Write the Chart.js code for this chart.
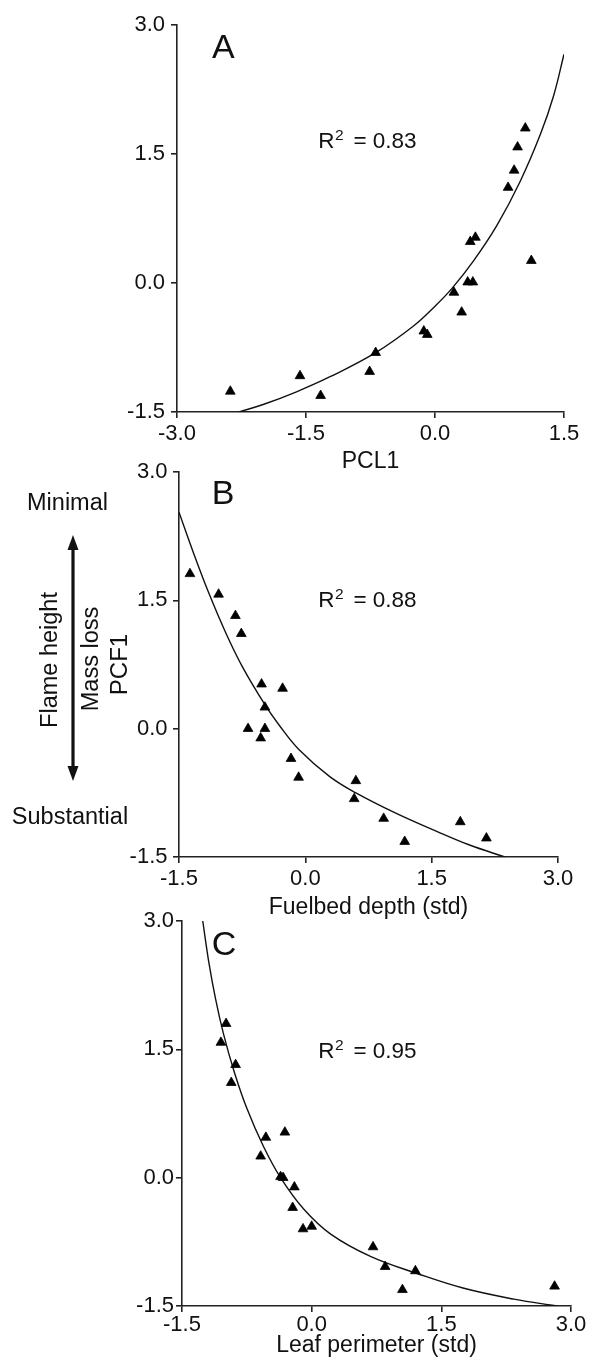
<!DOCTYPE html>
<html>
<head>
<meta charset="utf-8">
<script src="https://cdn.jsdelivr.net/npm/chart.js@4.4.1/dist/chart.umd.min.js"></script>
<style>
html,body{margin:0;padding:0;background:#fff;}
#wrap{position:relative;width:590px;height:1364px;overflow:hidden;background:#fff;}
canvas{position:absolute;left:0;top:0;}
</style>
</head>
<body>
<div id="wrap">
<canvas id="cA" width="590" height="1364"></canvas>
<canvas id="cB" width="590" height="1364"></canvas>
<canvas id="cC" width="590" height="1364"></canvas>
</div>
<script>
// ---------------- DATA ----------------
// Panel A: PCL1 vs PCF1
const pcl1 = [-2.38,-1.57,-1.33,-0.76,-0.69,-0.13,-0.09,0.22,0.31,0.38,0.44,0.41,0.47,0.85,0.92,0.96,1.05,1.12];
const pcf1A = [-1.26,-1.08,-1.31,-1.03,-0.81,-0.56,-0.60,-0.11,-0.34,0.01,0.01,0.48,0.53,1.11,1.31,1.58,1.80,0.26];
const fitAx = [-2.28,-1.99,-1.61,-1.22,-0.69,-0.25,0.00,0.20,0.45,0.72,0.99,1.23,1.38,1.50];
const fitAy = [-1.50,-1.41,-1.265,-1.09,-0.81,-0.50,-0.27,-0.06,0.26,0.67,1.18,1.74,2.18,2.66];

// Panel B: Fuelbed depth (std) vs PCF1
const fuelbed = [-1.37,-1.03,-0.83,-0.76,-0.52,-0.27,-0.48,-0.68,-0.48,-0.53,-0.17,-0.08,0.60,0.58,0.93,1.18,1.84,2.15];
const pcf1B = [1.81,1.57,1.32,1.11,0.52,0.47,0.25,0.00,0.00,-0.11,-0.35,-0.57,-0.61,-0.82,-1.05,-1.32,-1.09,-1.28];
const fitBx = [-1.50,-1.33,-1.14,-0.94,-0.74,-0.48,-0.31,-0.08,0.29,0.60,1.08,1.56,1.95,2.37];
const fitBy = [2.53,2.06,1.57,1.11,0.71,0.28,0.04,-0.24,-0.56,-0.75,-0.99,-1.20,-1.36,-1.50];

// Panel C: Leaf perimeter (std) vs PCF1
const leafPerim = [-0.99,-1.05,-0.88,-0.93,-0.31,-0.53,-0.59,-0.36,-0.33,-0.20,-0.22,-0.10,0.00,0.71,0.85,1.20,1.05,2.81];
const pcf1C = [1.80,1.58,1.32,1.11,0.53,0.47,0.25,0.01,0.00,-0.11,-0.35,-0.60,-0.57,-0.81,-1.04,-1.09,-1.31,-1.27];
const fitCx = [-1.26,-1.19,-1.11,-1.02,-0.90,-0.75,-0.56,-0.36,-0.09,0.22,0.68,1.22,1.75,2.34,2.84];
const fitCy = [3.00,2.52,2.08,1.68,1.25,0.81,0.37,0.00,-0.37,-0.66,-0.92,-1.12,-1.29,-1.42,-1.50];

// Tick values and labels
const xTicksA = [-3.0,-1.5,0.0,1.5];
const xTickLabelsA = ['-3.0','-1.5','0.0','1.5'];
const xTicksBC = [-1.5,0.0,1.5,3.0];
const xTickLabelsBC = ['-1.5','0.0','1.5','3.0'];
const yTicks = [-1.5,0.0,1.5,3.0];
const yTickLabels = ['-1.5','0.0','1.5','3.0'];

// Labels
const panelLetters = ['A','B','C'];
const r2Values = ['0.83','0.88','0.95'];
const xTitles = ['PCL1','Fuelbed depth (std)','Leaf perimeter (std)'];
const yTitle = 'PCF1';
const sideTexts = ['Minimal','Substantial','Flame height','Mass loss'];

// ---------------- DRAWING ----------------
const FONT = '"Liberation Sans", Arial, Helvetica, sans-serif';
const INK = '#111';
const W = 590, H = 1364;

function pts(xs, ys){ return xs.map((x,i)=>({x:x, y:ys[i]})); }

function drawR2(ctx, x, y, val){
  ctx.save();
  ctx.fillStyle = INK;
  ctx.textAlign = 'left';
  ctx.textBaseline = 'alphabetic';
  ctx.font = '22.5px ' + FONT;
  ctx.fillText('R', x, y);
  let w = ctx.measureText('R').width;
  ctx.font = '15.5px ' + FONT;
  ctx.fillText('2', x + w + 0.5, y - 8);
  let w2 = ctx.measureText('2').width;
  ctx.font = '22.5px ' + FONT;
  ctx.fillText(' = ' + val, x + w + w2 + 4, y);
  ctx.restore();
}

function drawSide(ctx){
  ctx.save();
  ctx.fillStyle = INK;
  ctx.strokeStyle = INK;
  ctx.font = '23.5px ' + FONT;
  ctx.textAlign = 'center';
  ctx.textBaseline = 'alphabetic';
  ctx.fillText(sideTexts[0], 67.5, 509.5);
  ctx.fillText(sideTexts[1], 70, 823.5);
  ctx.save();
  ctx.translate(57, 660);
  ctx.rotate(-Math.PI/2);
  ctx.fillText(sideTexts[2], 0, 0);
  ctx.restore();
  ctx.save();
  ctx.translate(98.3, 659);
  ctx.rotate(-Math.PI/2);
  ctx.fillText(sideTexts[3], 0, 0);
  ctx.restore();
  // double arrow
  const ax = 73, top = 535, bot = 781, hh = 15, hw = 5.5;
  ctx.lineWidth = 3.2;
  ctx.beginPath();
  ctx.moveTo(ax, top + hh - 2);
  ctx.lineTo(ax, bot - hh + 2);
  ctx.stroke();
  ctx.beginPath();
  ctx.moveTo(ax, top); ctx.lineTo(ax + hw, top + hh); ctx.lineTo(ax - hw, top + hh); ctx.closePath();
  ctx.fill();
  ctx.beginPath();
  ctx.moveTo(ax, bot); ctx.lineTo(ax + hw, bot - hh); ctx.lineTo(ax - hw, bot - hh); ctx.closePath();
  ctx.fill();
  ctx.restore();
}

function makePanel(id, p){
  const annot = {
    id: 'annot' + id,
    afterDraw(chart){
      const ctx = chart.ctx;
      ctx.save();
      ctx.fillStyle = INK;
      ctx.font = '34px ' + FONT;
      ctx.textAlign = 'left';
      ctx.textBaseline = 'alphabetic';
      ctx.fillText(p.letter, p.letterPos[0], p.letterPos[1]);
      ctx.restore();
      drawR2(ctx, p.r2Pos[0], p.r2Pos[1], p.r2);
      if (p.side) drawSide(ctx);
    }
  };
  const a = p.area;
  return new Chart(document.getElementById(id), {
    type: 'scatter',
    data: {
      datasets: [
        { data: pts(p.xs, p.ys), pointStyle: 'triangle', pointRadius: 5.6, pointHoverRadius: 5.6,
          backgroundColor: '#000', borderColor: '#000', borderWidth: 0.8, showLine: false, order: 1 },
        { data: pts(p.fx, p.fy), showLine: true, pointRadius: 0, pointHoverRadius: 0,
          borderColor: INK, borderWidth: 1.4, tension: 0.4, fill: false, order: 2 }
      ]
    },
    options: {
      responsive: false, animation: false, devicePixelRatio: 1,
      events: [],
      layout: { padding: { left: 0, top: a.t, right: W - a.r, bottom: H - a.b - p.xH } },
      plugins: { legend: { display: false }, tooltip: { enabled: false } },
      scales: {
        x: {
          type: 'linear', position: 'bottom', min: p.xMin, max: p.xMax,
          afterFit: s => { s.height = p.xH; },
          afterBuildTicks: s => { s.ticks = p.xTicks.map(v => ({ value: v })); },
          ticks: { callback: (v, i) => p.xLabels[i], font: { family: FONT, size: 22 }, color: INK,
                   padding: p.xPad, maxRotation: 0, autoSkip: false },
          grid: { display: true, drawOnChartArea: false, drawTicks: true, tickLength: 6, color: '#222', lineWidth: 1.6 },
          border: { display: true, color: '#222', width: 1.6 },
          title: { display: true, text: p.xTitle, font: { family: FONT, size: 23 }, color: INK, padding: { top: 0, bottom: 0 } }
        },
        y: {
          type: 'linear', position: 'left', min: -1.5, max: 3.0,
          afterFit: s => { s.width = a.l; },
          afterBuildTicks: s => { s.ticks = yTicks.map(v => ({ value: v })); },
          ticks: { callback: (v, i) => yTickLabels[i], font: { family: FONT, size: 22 }, color: INK,
                   padding: p.yPad, autoSkip: false },
          grid: { display: true, drawOnChartArea: false, drawTicks: true, tickLength: 6, color: '#222', lineWidth: 1.6 },
          border: { display: true, color: '#222', width: 1.6 },
          title: { display: !!p.yTitle, text: p.yTitle || '', font: { family: FONT, size: 24 }, color: INK,
                   padding: { top: 105.6, bottom: 0 } }
        }
      }
    },
    plugins: [annot]
  });
}

makePanel('cA', {
  area: { l: 177, r: 564, t: 25, b: 412 }, xH: 63.8, xPad: 3, yPad: 6,
  xMin: -3.0, xMax: 1.5, xTicks: xTicksA, xLabels: xTickLabelsA, xTitle: xTitles[0],
  xs: pcl1, ys: pcf1A, fx: fitAx, fy: fitAy,
  letter: panelLetters[0], letterPos: [212, 57.5], r2: r2Values[0], r2Pos: [318.3, 148.3]
});
makePanel('cB', {
  area: { l: 179, r: 558, t: 472, b: 857 }, xH: 64.8, xPad: 3, yPad: 5.5,
  xMin: -1.5, xMax: 3.0, xTicks: xTicksBC, xLabels: xTickLabelsBC, xTitle: xTitles[1],
  xs: fuelbed, ys: pcf1B, fx: fitBx, fy: fitBy, yTitle: yTitle,
  letter: panelLetters[1], letterPos: [211.7, 503.7], r2: r2Values[1], r2Pos: [318.3, 607], side: true
});
makePanel('cC', {
  area: { l: 182, r: 571, t: 921, b: 1306 }, xH: 53.8, xPad: 0, yPad: 2,
  xMin: -1.5, xMax: 3.0, xTicks: xTicksBC, xLabels: xTickLabelsBC, xTitle: xTitles[2],
  xs: leafPerim, ys: pcf1C, fx: fitCx, fy: fitCy,
  letter: panelLetters[2], letterPos: [211.7, 955], r2: r2Values[2], r2Pos: [318.3, 1058]
});
</script>
</body>
</html>
